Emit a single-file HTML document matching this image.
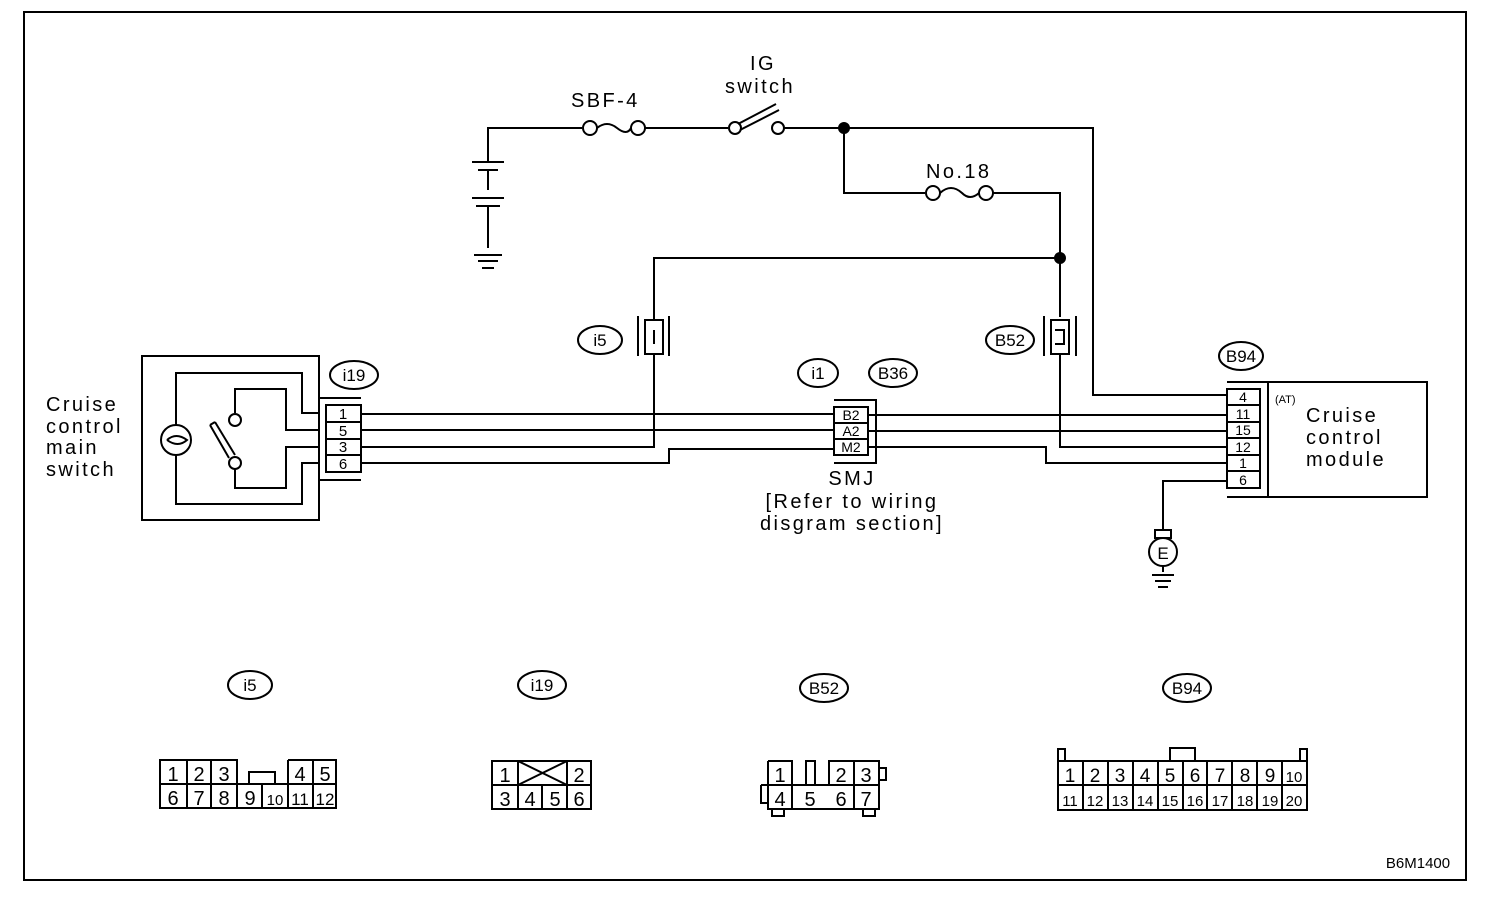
<!DOCTYPE html>
<html><head><meta charset="utf-8"><style>
html,body{margin:0;padding:0;background:#fff;}
svg{display:block;}
text{font-family:"Liberation Sans",sans-serif;fill:#000;}
.t{font-size:20px;letter-spacing:2.4px;}
.s{font-size:15px;}
.c{font-size:17px;}
</style></head><body>
<svg width="1504" height="898" viewBox="0 0 1504 898" xmlns="http://www.w3.org/2000/svg" fill="none" stroke="#000" stroke-width="2">
<rect x="24" y="12" width="1442" height="868"/>
<!-- top wiring -->
<path d="M488 162 V128 H582"/>
<circle cx="590" cy="128" r="7"/><circle cx="638" cy="128" r="7"/>
<path d="M597 128 q10 -8 20 0 q10 8 14 0"/>
<path d="M645 128 H728"/>
<circle cx="735" cy="128" r="6"/><circle cx="778" cy="128" r="6"/>
<path d="M738 124 L776 104 M740 130 L779 110"/>
<path d="M784 128 H1093 V395 H1227"/>
<circle cx="844" cy="128" r="5" fill="#000"/>
<path d="M844 128 V193 H925"/>
<circle cx="933" cy="193" r="7"/><circle cx="986" cy="193" r="7"/>
<path d="M940 193 q11 -10 22 0 q8 8 17 0"/>
<path d="M993 193 H1060 V317"/>
<circle cx="1060" cy="258" r="5" fill="#000"/>
<path d="M654 320 V258 H1060"/>
<!-- battery -->
<path d="M472 162 H504 M478 170 H498 M488 170 V190 M472 198 H504 M476 206 H500 M488 206 V248 M474 255 H502 M478 261 H498 M482 268 H494" />
<!-- labels top -->
<text class="t" x="571" y="107" stroke="none">SBF-4</text>
<text class="t" x="750" y="70" stroke="none">IG</text>
<text class="t" x="725" y="93" stroke="none">switch</text>
<text class="t" x="926" y="178" stroke="none">No.18</text>
<!-- i5 connector -->
<rect x="645" y="320" width="18" height="34"/>
<path d="M638 316 V356 M669 316 V356 M654 330 V344"/>
<ellipse cx="600" cy="340" rx="22" ry="14"/>
<text class="c" x="600" y="346" text-anchor="middle" stroke="none">i5</text>
<path d="M654 354 V447 H361"/>
<!-- B52 connector -->
<rect x="1051" y="320" width="18" height="34"/>
<path d="M1044 316 V356 M1076 316 V356 M1055 330 H1064 V344 H1055"/>
<ellipse cx="1010" cy="340" rx="24" ry="14"/>
<text class="c" x="1010" y="346" text-anchor="middle" stroke="none">B52</text>
<path d="M1060 354 V447 H1227"/>
<!-- switch assembly -->
<rect x="142" y="356" width="177" height="164"/>
<path d="M176 425 V373 H302 V413 H319"/>
<path d="M176 455 V504 H302 V463 H319"/>
<circle cx="176" cy="440" r="15"/>
<path d="M167 440 q9 -8 20 0 q-9 8 -20 0"/>
<path d="M235 413 V389 H286 V430 H319"/>
<path d="M319 447 H286 V488 H235 V469"/>
<circle cx="235" cy="420" r="6"/><circle cx="235" cy="463" r="6"/>
<path d="M210 425 L229 458 M215 422 L235 455 M210 425 L215 422"/>
<text class="t" x="46" y="411" stroke="none">Cruise</text>
<text class="t" x="46" y="433" stroke="none">control</text>
<text class="t" x="46" y="454" stroke="none">main</text>
<text class="t" x="46" y="476" stroke="none">switch</text>
<!-- i19 connector -->
<path d="M319 398 H361 M319 480 H361"/>
<rect x="326" y="405" width="35" height="67"/>
<path d="M326 422 H361 M326 439 H361 M326 455 H361"/>
<g stroke="none" font-size="15" text-anchor="middle"><text x="343" y="419">1</text><text x="343" y="436">5</text><text x="343" y="452">3</text><text x="343" y="469">6</text></g>
<ellipse cx="354" cy="375" rx="24" ry="14"/>
<text class="c" x="354" y="381" text-anchor="middle" stroke="none">i19</text>
<!-- wires to SMJ -->
<path d="M361 414 H834 M361 430 H834 M361 463 H669 V449 H834"/>
<!-- SMJ -->
<rect x="834" y="407" width="34" height="48"/>
<path d="M834 423 H868 M834 439 H868 M834 400 H876 V463 H834"/>
<g stroke="none" font-size="14" text-anchor="middle"><text x="851" y="420">B2</text><text x="851" y="436">A2</text><text x="851" y="452">M2</text></g>
<ellipse cx="818" cy="373" rx="20" ry="14"/>
<text class="c" x="818" y="379" text-anchor="middle" stroke="none">i1</text>
<ellipse cx="893" cy="373" rx="24" ry="14"/>
<text class="c" x="893" y="379" text-anchor="middle" stroke="none">B36</text>
<text class="t" x="852" y="485" text-anchor="middle" stroke="none">SMJ</text>
<text class="t" x="852" y="508" text-anchor="middle" stroke="none">[Refer to wiring</text>
<text class="t" x="852" y="530" text-anchor="middle" stroke="none">disgram section]</text>
<path d="M868 415 H1227 M868 431 H1227 M868 447 H1046 V463 H1227"/>
<!-- B94 / module -->
<path d="M1227 382 H1427 V497 H1227 M1268 382 V497"/>
<rect x="1227" y="389" width="33" height="99"/>
<path d="M1227 405 H1260 M1227 422 H1260 M1227 438 H1260 M1227 455 H1260 M1227 471 H1260"/>
<g stroke="none" font-size="14" text-anchor="middle"><text x="1243" y="402">4</text><text x="1243" y="419">11</text><text x="1243" y="435">15</text><text x="1243" y="452">12</text><text x="1243" y="468">1</text><text x="1243" y="485">6</text></g>
<ellipse cx="1241" cy="356" rx="22" ry="14"/>
<text class="c" x="1241" y="362" text-anchor="middle" stroke="none">B94</text>
<text x="1275" y="403" font-size="11" stroke="none">(AT)</text>
<text class="t" x="1306" y="422" stroke="none">Cruise</text>
<text class="t" x="1306" y="444" stroke="none">control</text>
<text class="t" x="1306" y="466" stroke="none">module</text>
<!-- ground E -->
<path d="M1227 481 H1163 V530"/>
<rect x="1155" y="530" width="16" height="8"/>
<circle cx="1163" cy="552" r="14"/>
<text x="1163" y="559" font-size="17" text-anchor="middle" stroke="none">E</text>
<path d="M1163 566 V572 M1152 575 H1174 M1155 581 H1171 M1158 587 H1168"/>
<!-- bottom labels -->
<ellipse cx="250" cy="685" rx="22" ry="14"/><text class="c" x="250" y="691" text-anchor="middle" stroke="none">i5</text>
<ellipse cx="542" cy="685" rx="24" ry="14"/><text class="c" x="542" y="691" text-anchor="middle" stroke="none">i19</text>
<ellipse cx="824" cy="688" rx="24" ry="14"/><text class="c" x="824" y="694" text-anchor="middle" stroke="none">B52</text>
<ellipse cx="1187" cy="688" rx="24" ry="14"/><text class="c" x="1187" y="694" text-anchor="middle" stroke="none">B94</text>
<!-- i5 bottom -->
<path d="M160 760 H237 V808 H160 Z M187 760 V808 M211 760 V808 M160 784 H336 M262 784 V808 M288 760 H336 V808 H237 M313 760 V808 M288 760 V808 M249 784 V772 H275 V784"/>
<g stroke="none" font-size="20" text-anchor="middle"><text x="173" y="781">1</text><text x="199" y="781">2</text><text x="224" y="781">3</text><text x="300" y="781">4</text><text x="325" y="781">5</text>
<text x="173" y="805">6</text><text x="199" y="805">7</text><text x="224" y="805">8</text><text x="250" y="805">9</text><text x="275" y="805" font-size="15">10</text><text x="300" y="805" font-size="17">11</text><text x="325" y="805" font-size="17">12</text></g>
<!-- i19 bottom -->
<rect x="492" y="761" width="99" height="48"/>
<path d="M492 785 H591 M518 761 V809 M567 761 V809 M542 785 V809 M518 761 L567 785 M567 761 L518 785"/>
<g stroke="none" font-size="20" text-anchor="middle"><text x="505" y="782">1</text><text x="579" y="782">2</text><text x="505" y="806">3</text><text x="530" y="806">4</text><text x="555" y="806">5</text><text x="579" y="806">6</text></g>
<!-- B52 bottom -->
<path d="M768 761 H792 V785 M768 761 V809 H879 V761 H829 V785 M854 761 V809 M792 785 V809 M768 785 H879 M806 761 V785 H815 V761 Z M761 785 H768 M761 785 V803 H768 M879 768 H886 V780 H879 M772 809 V816 H784 V809 M863 809 V816 H875 V809"/>
<g stroke="none" font-size="20" text-anchor="middle"><text x="780" y="782">1</text><text x="841" y="782">2</text><text x="866" y="782">3</text><text x="780" y="806">4</text><text x="810" y="806">5</text><text x="841" y="806">6</text><text x="866" y="806">7</text></g>
<!-- B94 bottom -->
<rect x="1058" y="761" width="249" height="49"/>
<path d="M1058 785 H1307 M1083 761 V810 M1108 761 V810 M1133 761 V810 M1158 761 V810 M1183 761 V810 M1207 761 V810 M1232 761 V810 M1257 761 V810 M1282 761 V810 M1058 761 V749 H1065 V761 M1300 761 V749 H1307 V761 M1170 761 V748 H1195 V761"/>
<g stroke="none" font-size="19" text-anchor="middle"><text x="1070" y="782">1</text><text x="1095" y="782">2</text><text x="1120" y="782">3</text><text x="1145" y="782">4</text><text x="1170" y="782">5</text><text x="1195" y="782">6</text><text x="1220" y="782">7</text><text x="1245" y="782">8</text><text x="1270" y="782">9</text><text x="1294" y="782" font-size="15">10</text></g>
<g stroke="none" font-size="15" text-anchor="middle"><text x="1070" y="806">11</text><text x="1095" y="806">12</text><text x="1120" y="806">13</text><text x="1145" y="806">14</text><text x="1170" y="806">15</text><text x="1195" y="806">16</text><text x="1220" y="806">17</text><text x="1245" y="806">18</text><text x="1270" y="806">19</text><text x="1294" y="806">20</text></g>
<text x="1418" y="868" font-size="15" text-anchor="middle" stroke="none">B6M1400</text>
</svg>
</body></html>
